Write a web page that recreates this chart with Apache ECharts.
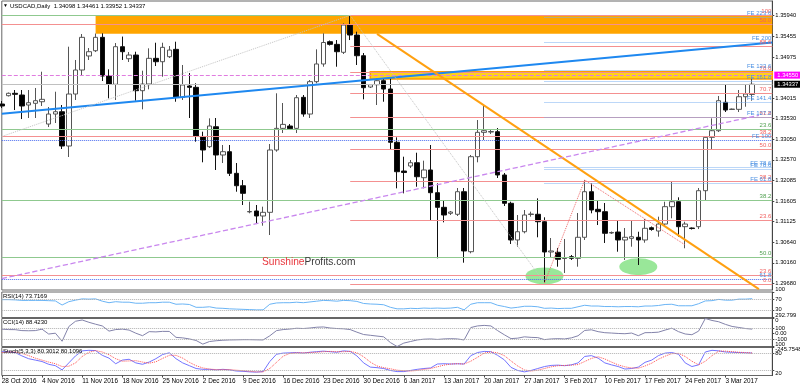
<!DOCTYPE html>
<html><head><meta charset="utf-8">
<script src="https://cdn.jsdelivr.net/npm/echarts@6/dist/echarts.min.js"></script>
<style>html,body{margin:0;padding:0;background:#fff}#c{width:800px;height:386px}</style>
</head><body><div id="c"></div>
<script>
const categories = [
'28 Oct 2016',
'30 Oct 2016','31 Oct 2016','1 Nov 2016','2 Nov 2016','3 Nov 2016','4 Nov 2016',
'6 Nov 2016','7 Nov 2016','8 Nov 2016','9 Nov 2016','10 Nov 2016','11 Nov 2016',
'13 Nov 2016','14 Nov 2016','15 Nov 2016','16 Nov 2016','17 Nov 2016','18 Nov 2016',
'20 Nov 2016','21 Nov 2016','22 Nov 2016','23 Nov 2016','24 Nov 2016','25 Nov 2016',
'27 Nov 2016','28 Nov 2016','29 Nov 2016','30 Nov 2016','1 Dec 2016','2 Dec 2016',
'4 Dec 2016','5 Dec 2016','6 Dec 2016','7 Dec 2016','8 Dec 2016','9 Dec 2016',
'11 Dec 2016','12 Dec 2016','13 Dec 2016','14 Dec 2016','15 Dec 2016','16 Dec 2016',
'18 Dec 2016','19 Dec 2016','20 Dec 2016','21 Dec 2016','22 Dec 2016','23 Dec 2016',
'25 Dec 2016','26 Dec 2016','27 Dec 2016','28 Dec 2016','29 Dec 2016','30 Dec 2016',
'1 Jan 2017','2 Jan 2017','3 Jan 2017','4 Jan 2017','5 Jan 2017','6 Jan 2017',
'8 Jan 2017','9 Jan 2017','10 Jan 2017','11 Jan 2017','12 Jan 2017','13 Jan 2017',
'15 Jan 2017','16 Jan 2017','17 Jan 2017','18 Jan 2017','19 Jan 2017','20 Jan 2017',
'22 Jan 2017','23 Jan 2017','24 Jan 2017','25 Jan 2017','26 Jan 2017','27 Jan 2017',
'29 Jan 2017','30 Jan 2017','31 Jan 2017','1 Feb 2017','2 Feb 2017','3 Feb 2017',
'5 Feb 2017','6 Feb 2017','7 Feb 2017','8 Feb 2017','9 Feb 2017','10 Feb 2017',
'12 Feb 2017','13 Feb 2017','14 Feb 2017','15 Feb 2017','16 Feb 2017','17 Feb 2017',
'19 Feb 2017','20 Feb 2017','21 Feb 2017','22 Feb 2017','23 Feb 2017','24 Feb 2017',
'26 Feb 2017','27 Feb 2017','28 Feb 2017','1 Mar 2017','2 Mar 2017','3 Mar 2017',
'5 Mar 2017','6 Mar 2017','7 Mar 2017','8 Mar 2017',
' ','  ','   '];

const open = [1.33874,1.34069,1.34125,1.34085,1.33851,1.33891,1.33928,1.33406,1.33640,1.33694,
1.32892,1.34108,1.34670,1.34998,1.35121,1.35434,1.34529,1.34335,1.35215,1.34934,
1.35020,1.34186,1.34342,1.34943,1.34864,1.34981,1.35153,1.34031,1.34296,1.34265,
1.33115,1.32876,1.33343,1.32682,1.32759,1.32253,1.31963,1.31351,1.31372,1.31255,
1.31341,1.32799,1.33305,1.33360,1.33305,1.34031,1.33640,1.34397,1.34811,1.35332,
1.35270,1.35084,1.35722,1.35488,1.35004,1.34272,1.34326,1.34420,1.34225,1.32979,
1.32307,1.32424,1.32501,1.32151,1.32331,1.31800,1.31458,1.31318,1.31295,1.31823,
1.30420,1.32642,1.33212,1.33219,1.33227,1.32214,1.31552,1.30694,1.30887,1.31290,
1.31295,1.31121,1.30413,1.30406,1.30261,1.30303,1.30265,1.30757,1.31823,1.31411,
1.31356,1.30857,1.30880,1.30694,1.30733,1.30757,1.30694,1.30981,1.30904,1.31067,
1.31473,1.31589,1.31005,1.30974,1.31005,1.31847,1.33095,1.33250,1.33914,1.33746,
1.33750,1.34045,1.34098];
const high = [1.33945,1.34144,1.34202,1.34202,1.34202,1.34249,1.34630,1.33804,1.34162,1.33851,
1.35215,1.34904,1.35512,1.35184,1.35523,1.35528,1.34686,1.35301,1.35452,1.35090,
1.35098,1.34654,1.35177,1.35308,1.35308,1.35231,1.35332,1.34787,1.34600,1.34359,
1.33227,1.33539,1.33547,1.32916,1.32916,1.32494,1.32097,1.31589,1.31512,1.31473,
1.32939,1.34125,1.33898,1.33406,1.34085,1.34085,1.34436,1.35153,1.35528,1.35360,
1.35371,1.35762,1.35949,1.35566,1.35067,1.34342,1.34476,1.34476,1.34476,1.33095,
1.32642,1.32565,1.32735,1.32549,1.32916,1.32019,1.31629,1.31372,1.31910,1.31910,
1.32682,1.33500,1.33828,1.33266,1.33313,1.32261,1.31589,1.31278,1.31395,1.31356,
1.31668,1.31224,1.30740,1.30507,1.30717,1.30343,1.31325,1.32097,1.32019,1.31629,
1.31559,1.30892,1.31161,1.30974,1.31161,1.30887,1.31184,1.31009,1.31239,1.31589,
1.32057,1.31692,1.31121,1.30986,1.31910,1.33126,1.33539,1.34062,1.34342,1.33769,
1.34202,1.34319,1.34461];
const low = [1.33781,1.34050,1.33734,1.33523,1.33547,1.33547,1.33828,1.33336,1.33430,1.32822,
1.32635,1.33968,1.34553,1.34904,1.35090,1.34412,1.34007,1.33968,1.34904,1.34857,
1.33952,1.33750,1.34218,1.34763,1.34513,1.34950,1.33928,1.33968,1.33547,1.32993,
1.32511,1.32846,1.32331,1.32494,1.32190,1.31823,1.31512,1.31318,1.31067,1.31028,
1.30810,1.32759,1.33196,1.33266,1.33196,1.33577,1.33547,1.34359,1.34747,1.35243,
1.34747,1.35044,1.35371,1.34787,1.33984,1.34249,1.33851,1.33928,1.32799,1.31902,
1.31785,1.32377,1.31940,1.31902,1.31161,1.30265,1.31107,1.31278,1.31255,1.30163,
1.30382,1.32511,1.33032,1.33173,1.32144,1.31489,1.30600,1.30537,1.30849,1.31239,
1.30757,1.29688,1.30296,1.30069,1.29922,1.30226,1.30069,1.30694,1.31318,1.31044,
1.30624,1.30834,1.30420,1.30226,1.30537,1.30109,1.30630,1.30911,1.30771,1.31005,
1.31201,1.30771,1.30500,1.30939,1.30950,1.31613,1.32815,1.33219,1.33687,1.33734,
1.33687,1.33811,1.33952];
const close = [1.33828,1.34125,1.34101,1.33828,1.33905,1.33952,1.33984,1.33640,1.33694,1.32892,
1.34108,1.34670,1.35434,1.35098,1.35434,1.34529,1.34335,1.35215,1.35098,1.35020,
1.34186,1.34342,1.34943,1.34864,1.35200,1.35137,1.34031,1.34319,1.34265,1.33126,
1.32799,1.33360,1.32682,1.32759,1.32253,1.31963,1.31785,1.31360,1.31255,1.31341,
1.32799,1.33305,1.33398,1.33297,1.34022,1.33640,1.34397,1.34811,1.35313,1.35270,
1.35098,1.35722,1.35488,1.35004,1.34256,1.34326,1.34420,1.34225,1.32979,1.32291,
1.32272,1.32501,1.32174,1.32331,1.31800,1.31458,1.31278,1.31348,1.31823,1.30437,
1.32642,1.33212,1.33250,1.33231,1.32214,1.31552,1.30694,1.30887,1.31278,1.31302,
1.31121,1.30413,1.30437,1.30242,1.30273,1.30265,1.30757,1.31823,1.31395,1.31356,
1.30850,1.30869,1.30694,1.30757,1.30771,1.30694,1.30967,1.30939,1.31067,1.31473,
1.31589,1.31005,1.31067,1.30962,1.31847,1.33095,1.33250,1.33952,1.33734,1.33757,
1.34045,1.34108,1.34337];

const rsi = [70,70,69,67,67,67,67,66,65,49,
62,68,73,72,73,64,58,62,60,60,
56,56,58,58,60,60,52,53,51,40,
40,42,37,36,34,33,32,31,30,30,
52,57,58,58,60,58,61,64,67,66,
64,67,66,63,55,53,52,50,40,34,
34,36,35,37,36,37,36,37,40,30,
52,58,58,58,48,43,37,40,44,44,
42,36,37,35,36,36,42,48,45,45,
43,43,42,43,43,42,45,45,47,51,
52,46,46,46,54,65,66,71,68,68,
72,72,73.7169];
const cci = [88,80,78,60,57,60,88,-6,10,-145,
138,240,264,220,183,150,50,80,88,70,
10,-38,40,35,45,44,-70,-80,-100,-130,
-200,-150,-135,-125,-120,-118,-115,-115,-118,-120,
-40,60,80,90,105,100,110,125,130,110,
100,95,80,30,-15,-30,-45,-60,-170,-245.7548,
-180,-150,-120,-105,-100,-110,-100,-95,-100,-120,
119,150,160,150,60,-20,-94,-85,-60,-70,
-75,-113,-100,-95,-100,-80,-40,63,75,40,
20,13,5,0,13,-38,20,22,30,70,
107,40,-5,-19,50,292.799,255,230,180,140,
120,100,88.423];
const stochMain = [85,85,82,70,60,55,50,40,35,20,
45,70,88,90,89,72,62,42,55,58,
45,40,48,60,75,81,60,45,35,25,
22,22,20,22,20,16,15,13,12,14,
50,76,80,81,82,80,83,85,87,85,
83,88,86,70,45,30,28,25,18,14,
14,18,22,25,27,41,42,41,42,41,
71,82,86,85,72,56,29,18,13,18,
25,32,36,37,35,38,45,68,71,62,
45,38,32,23,25,30,47,55,71,80,
82,76,45,32,38,84,90,88,84,83,
82,81,80.3012];
const stochSignal = [82,84,84,79,71,62,55,48,42,32,
33,45,68,83,89,84,74,60,51,52,
53,48,44,49,61,72,72,62,47,35,
27,23,21,21,21,19,17,15,13,13,
25,47,69,79,81,81,82,83,85,86,
85,85,86,81,67,48,34,28,24,19,
17,16,18,22,25,31,37,41,42,41,
51,65,80,84,81,71,52,34,20,16,
19,25,31,35,36,37,39,50,61,67,
59,48,38,31,27,26,34,44,58,69,
78,79,68,51,38,51,71,87,87,85,
83,82,80.1096];

const priceTicks = [1.35940,1.35455,1.34975,1.34015,1.33530,1.33050,1.32570,1.32085,1.31605,1.31125,1.30640,1.30160,1.29680];
const rsiTicks = [100,70,30,0];
const cciTicks = [292.799,100,0,-100,-245.7548];
const cciTickLabels = ['292.799','100','0.00','-100','-245.7548'];
const stochTicks = [100,80,20];
const rsiLevels = [70,30];
const cciLevels = [100,-100];
const stochLevels = [80,20];

const greenLevels = [1.35940,1.33273,1.31622,1.30289];
const greenLabels = ['','23.6','38.2','50.0'];
const redWideLevels = [1.35739,1.33110,1.29868];
const redWideLabels = ['50.0','38.2','23.6'];
const redLevels = [1.35940,1.35230,1.34607,1.34125,1.33559,1.32815,1.32057,1.31154,1.29664];
const redLabels = ['100','88.6','78.6','70.7','61.8','50.0','38.2','23.6','0.0'];
const redStart = 52;
const blueWideLevels = [1.33026,1.29774];
const blueWideLabels = ['FE 100','61.8'];
const feLevels = [1.35910,1.35318,1.34670,1.34396,1.33914,1.33563,1.32394,1.32347,1.32020];
const feLabels = ['FE 223.6','FE 200','FE 123.6','FE 161.8','FE 141.4','FE 127.2','FE 78.6','FE 78.6','FE 61.8'];
const feStart = 81;
const resistanceLevel = 1.34550;
const lastPrice = 1.34337;
const orangeZone = {start:14, top:1.35940, bottom:1.35518};
const yellowZone = {start:55, top:1.34630, bottom:1.34459};

const upperBlueTrend = [[0,1.33645],[115,1.35311]];
const lowerBlueTrend = [[59,1.29515],[115,1.30406]];
const orangeTrend = [[56,1.35514],[113,1.29543]];
const purpleTrend = [[0,1.29791],[113,1.33610]];
const grayDotted = [[0,1.33115],[52,1.35949],[81,1.29688]];
const redDotted = [[81,1.29688],[87,1.32097],[102,1.30577]];
const ellipses = [[81,1.29851],[95,1.30069]];

const LAST = categories.length - 1;
const FONT = 'Liberation Sans';

function hline(from, price, color, type, width, text, textColor) {
  const label = text ? {show:true, formatter:text, position:'insideEndTop', distance:1, fontSize:6, color:textColor, fontFamily:FONT} : {show:false};
  return [{coord:[from, price], lineStyle:{color, type, width}, label}, {coord:[LAST, price]}];
}
function seg(a, b, color, type, width) {
  return [{coord:a, lineStyle:{color, type, width}, label:{show:false}}, {coord:b}];
}
function polySegs(pts, color, type, width) {
  const out = [];
  for (let i = 0; i < pts.length - 1; i++) out.push(seg(pts[i], pts[i+1], color, type, width));
  return out;
}

const lines = [];
greenLevels.forEach((p,i)=>lines.push(hline(0,p,'#8fc98f','solid',1.2,greenLabels[i],'#4f9f4f')));
redWideLevels.forEach((p,i)=>lines.push(hline(0,p,'#f49090','solid',1.2,redWideLabels[i],'#f06060')));
redLevels.forEach((p,i)=>lines.push(hline(redStart,p,'#f49090','solid',1.2,redLabels[i],'#f06060')));
blueWideLevels.forEach((p,i)=>lines.push(hline(0,p,'#4a6cf0','dotted',1,blueWideLabels[i],'#4a90e2')));
feLevels.forEach((p,i)=>lines.push(hline(feStart,p,'#78aef0','dotted',1,feLabels[i],'#4a90e2')));
lines.push([{coord:[0,resistanceLevel], lineStyle:{color:'#e07ce0',type:'dashed',width:1},
  label:{show:true, position:'end', distance:2, formatter:'1.34550', fontSize:5.8, color:'#fff', backgroundColor:'#ff00ff', padding:[1,4,0,3], fontFamily:FONT}}, {coord:[LAST,resistanceLevel]}]);
lines.push([{coord:[0,lastPrice], lineStyle:{color:'#c0c0c0',type:'solid',width:1},
  label:{show:true, position:'end', distance:2, formatter:'1.34337', fontSize:5.8, color:'#fff', backgroundColor:'#000', padding:[1,4,0,3], fontFamily:FONT}}, {coord:[LAST,lastPrice]}]);
lines.push(seg(upperBlueTrend[0], upperBlueTrend[1], '#1e88f0', 'solid', 2));
lines.push(seg(lowerBlueTrend[0], lowerBlueTrend[1], '#1e88f0', 'solid', 2));
lines.push(seg(orangeTrend[0], orangeTrend[1], '#ffa010', 'solid', 2));
lines.push(seg(purpleTrend[0], purpleTrend[1], '#c987ee', 'dashed', 1.3));
polySegs(grayDotted, '#c4c4c4', 'dotted', 1).forEach(s=>lines.push(s));
polySegs(redDotted, '#f06a6a', 'dotted', 1).forEach(s=>lines.push(s));

const candleData = open.map((o,i)=>[o, close[i], low[i], high[i]]);
const labelInterval = (i) => i % 6 === 0 && i <= 108;

const gridBase = {left:1.8, width:770.5, show:true, borderColor:'#666', borderWidth:1, backgroundColor:'#fff', outerBoundsMode:'none'};
const axisLabelBase = {fontSize:5.8, margin:3, color:'#000', fontFamily:FONT};

function indY(g, min, max, ticks, fmt) {
  return {type:'value', gridIndex:g, position:'right', min, max,
    axisLine:{show:true, lineStyle:{color:'#444'}},
    axisTick:{show:true, customValues:ticks, length:2, lineStyle:{color:'#444'}},
    axisLabel:Object.assign({customValues:ticks, formatter:fmt, verticalAlignMaxLabel:'top', verticalAlignMinLabel:'bottom'}, axisLabelBase),
    splitLine:{show:false}};
}
function levelLines(levels) {
  return {symbol:['none','none'], silent:true, animation:false, label:{show:false},
    lineStyle:{color:'#b0b0b0', type:'dotted', width:1}, data: levels.map(v=>({yAxis:v}))};
}

const option = {
  animation:false,
  textStyle:{fontFamily:FONT},
  grid:[
    Object.assign({top:1, height:289}, gridBase),
    Object.assign({top:292, height:25.5}, gridBase),
    Object.assign({top:318.5, height:28}, gridBase),
    Object.assign({top:347.5, height:28}, gridBase)
  ],
  xAxis:[0,1,2,3].map(g=>({type:'category', gridIndex:g, data:categories, boundaryGap:false,
    axisLine:{show:false},
    axisTick:{show:g===3, interval:labelInterval, length:2, lineStyle:{color:'#444'}},
    axisLabel:{show:g===3, interval:labelInterval, align:'left', fontSize:6.4, margin:3, color:'#000', fontFamily:FONT},
    splitLine:{show:false}})),
  yAxis:[
    {type:'value', gridIndex:0, position:'right', min:1.29524, max:1.36284,
      axisLine:{show:true, lineStyle:{color:'#444'}},
      axisTick:{show:true, customValues:priceTicks, length:2, lineStyle:{color:'#444'}},
      axisLabel:Object.assign({customValues:priceTicks, formatter:v=>v.toFixed(5)}, axisLabelBase),
      splitLine:{show:false}},
    indY(1, 0, 100, rsiTicks, v=>String(v)),
    indY(2, -245.7548, 292.799, cciTicks, v=>{const k=cciTicks.indexOf(v); return k>=0?cciTickLabels[k]:String(v);}),
    indY(3, 0, 100, stochTicks, v=>String(v))
  ],
  series:[
    {type:'scatter', xAxisIndex:0, yAxisIndex:0, z:1, silent:true, symbol:'circle', symbolSize:[38,17],
      itemStyle:{color:'#93e693', opacity:0.95}, data:ellipses},
    {type:'candlestick', xAxisIndex:0, yAxisIndex:0, data:candleData, barWidth:5, z:2,
      itemStyle:{color:'#ffffff', color0:'#000000', borderColor:'#555555', borderColor0:'#111111', borderWidth:1},
      markArea:{silent:true, data:[
        [{coord:[orangeZone.start, orangeZone.top], itemStyle:{color:'#ffa500'}}, {coord:[LAST, orangeZone.bottom]}],
        [{coord:[yellowZone.start, yellowZone.top], itemStyle:{color:'#ffd21a', borderColor:'#ff9c00', borderWidth:1.5}}, {coord:[LAST, yellowZone.bottom]}]
      ]},
      markLine:{symbol:['none','none'], silent:true, animation:false, data:lines}
    },
    {type:'line', xAxisIndex:1, yAxisIndex:1, data:rsi, showSymbol:false, lineStyle:{color:'#6ab4f5', width:1}, markLine:levelLines(rsiLevels)},
    {type:'line', xAxisIndex:2, yAxisIndex:2, data:cci, showSymbol:false, lineStyle:{color:'#8383aa', width:1}, markLine:levelLines(cciLevels)},
    {type:'line', xAxisIndex:3, yAxisIndex:3, data:stochMain, showSymbol:false, lineStyle:{color:'#7474ff', width:1}, markLine:levelLines(stochLevels)},
    {type:'line', xAxisIndex:3, yAxisIndex:3, data:stochSignal, showSymbol:false, lineStyle:{color:'#ff5050', width:1, type:'dotted'}}
  ],
  graphic:[
    {type:'text', left:3, top:3, z:100, style:{text:'\u25BC', fontSize:5, fill:'#000', fontFamily:FONT}},
    {type:'text', left:10, top:3, z:100, style:{text:'USDCAD,Daily  1.34098 1.34461 1.33952 1.34337', fontSize:6, fill:'#000', fontFamily:FONT}},
    {type:'text', left:262, top:257, z:100, style:{text:'{a|Sunshine}{b|Profits.com}', fontSize:10.2, fontFamily:FONT,
      rich:{a:{fill:'#e8363c', fontSize:10.2, fontFamily:FONT}, b:{fill:'#3a3a3a', fontSize:10.2, fontFamily:FONT}}}},
    {type:'text', left:3, top:293.5, z:100, style:{text:'RSI(14) 73.7169', fontSize:6, fill:'#000', fontFamily:FONT}},
    {type:'text', left:3, top:319.5, z:100, style:{text:'CCI(14) 88.4230', fontSize:6, fill:'#000', fontFamily:FONT}},
    {type:'text', left:3, top:348, z:100, style:{text:'Stoch(5,3,3) 80.3012 80.1096', fontSize:6, fill:'#000', fontFamily:FONT}}
  ]
};
const chart = echarts.init(document.getElementById('c'), null, {renderer:'canvas'});
chart.setOption(option);
</script></body></html>
